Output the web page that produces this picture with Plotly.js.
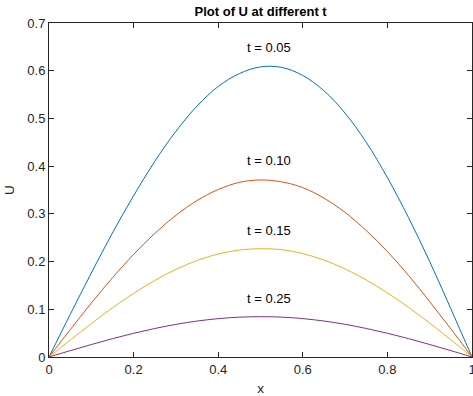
<!DOCTYPE html>
<html>
<head>
<meta charset="utf-8">
<script src="https://cdn.plot.ly/plotly-3.0.1.min.js"></script>
<style>html,body{margin:0;padding:0;background:#fff;}#chart{width:473px;height:396px;}</style>
</head>
<body>
<div id="chart"></div>
<script>
const xVals = [0,0.05,0.1,0.15,0.2,0.25,0.3,0.35,0.4,0.45,0.5,0.55,0.6,0.65,0.7,0.75,0.8,0.85,0.9,0.95,1];
const u005 = [0,0.089,0.176,0.260,0.338,0.410,0.473,0.526,0.567,0.594,0.608,0.607,0.590,0.558,0.511,0.450,0.376,0.292,0.200,0.101,0];
const u010 = [0,0.057,0.113,0.166,0.215,0.259,0.297,0.328,0.351,0.366,0.371,0.367,0.355,0.333,0.303,0.265,0.221,0.171,0.116,0.059,0];
const u015 = [0,0.0355,0.0701,0.1031,0.1334,0.1605,0.1836,0.2023,0.2159,0.2242,0.227,0.2250,0.2167,0.2033,0.1846,0.1615,0.1344,0.1041,0.0711,0.0363,0];
const u025 = [0,0.0132,0.0261,0.0384,0.0497,0.0597,0.0684,0.0753,0.0804,0.0835,0.0845,0.0836,0.0805,0.0754,0.0685,0.0598,0.0498,0.0385,0.0262,0.0133,0];
const seriesNames = ['t = 0.05','t = 0.10','t = 0.15','t = 0.25'];
const seriesData = [u005,u010,u015,u025];
const colors = ['#0072BD','#D95319','#EDB120','#7E2F8E'];
const labelX = [0.52,0.52,0.52,0.52];
const labelY = [0.648,0.411,0.266,0.122];
const xTicks = [0,0.2,0.4,0.6,0.8,1];
const xTickText = ['0','0.2','0.4','0.6','0.8','1'];
const yTicks = [0,0.1,0.2,0.3,0.4,0.5,0.6,0.7];
const yTickText = ['0','0.1','0.2','0.3','0.4','0.5','0.6','0.7'];

const FONT = 'Liberation Sans, Arial, sans-serif';

const traces = seriesData.map((ys,i)=>({
  x: xVals, y: ys, type:'scatter', mode:'lines', name: seriesNames[i],
  line:{color:colors[i], width:1, shape:'spline', smoothing:1}, hoverinfo:'skip'
}));

const annotations = seriesNames.map((t,i)=>({
  x: labelX[i], y: labelY[i], xref:'x', yref:'y', text:t, showarrow:false,
  font:{family:FONT, size:13, color:'#000'},
  xanchor:'center', yanchor:'middle'
}));

const axisCommon = {
  showline:true, mirror:'ticks', linecolor:'#262626', linewidth:1,
  ticks:'inside', ticklen:5, tickwidth:1, tickcolor:'#262626',
  showgrid:false, zeroline:false, ticklabeloverflow:'allow',
  tickfont:{family:FONT, size:13, color:'#262626'}
};

const layout = {
  width:473, height:396,
  margin:{l:49, r:1, t:23, b:39, pad:0},
  paper_bgcolor:'#fff', plot_bgcolor:'#fff',
  showlegend:false,
  title:{text:'<b>Plot of U at different t</b>', x:0.551, xanchor:'center', y:0.972, yanchor:'middle',
    font:{family:FONT, size:13, color:'#000'}},
  xaxis:Object.assign({}, axisCommon, {range:[0,1], tickvals:xTicks, ticktext:xTickText,
    title:{text:'x', font:{family:FONT, size:13.5, color:'#262626'}, standoff:12}}),
  yaxis:Object.assign({}, axisCommon, {range:[0,0.7], tickvals:yTicks, ticktext:yTickText,
    title:{text:'U', font:{family:FONT, size:13.5, color:'#262626'}, standoff:9}}),
  annotations: annotations
};

Plotly.newPlot('chart', traces, layout, {displayModeBar:false, staticPlot:true});
</script>
</body>
</html>
